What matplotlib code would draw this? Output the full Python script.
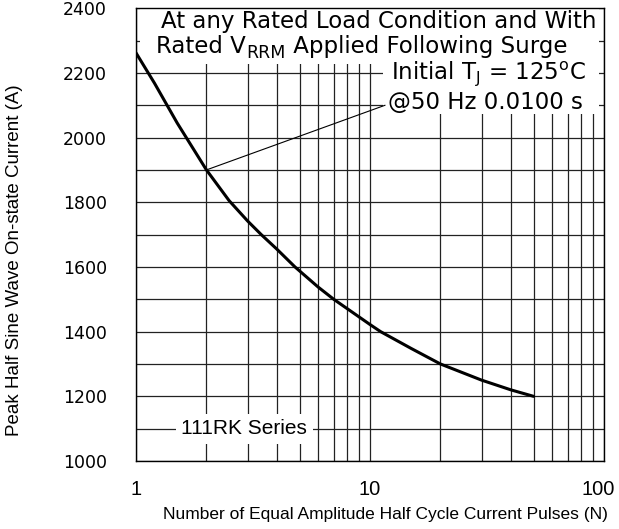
import numpy as np
import matplotlib.pyplot as plt
import matplotlib.transforms as mtransforms
from matplotlib.patches import Rectangle
from matplotlib.ticker import FixedLocator, NullFormatter

# values (111RK series)
pulses = [1, 1.2, 1.5, 2, 2.5, 3, 3.43, 4, 4.78, 6, 7, 10, 11.1, 15, 20, 30, 40, 50]
current = [2262, 2168, 2045, 1900, 1805, 1742, 1700, 1655, 1600, 1538, 1500, 1422,
           1400, 1348, 1300, 1250, 1220, 1200]

y_ticks = [1000, 1200, 1400, 1600, 1800, 2000, 2200, 2400]
x_ticks = [1, 10, 100]
x_ticklabels = ['1', '10', '100']

anno_point = (2, 1900)
anno_text_at = (11.6, 2100)

plt.rcParams['font.family'] = ['Liberation Sans', 'DejaVu Sans']

fig = plt.figure(figsize=(6.19, 5.29), dpi=100)
ax = fig.add_axes([0.2197, 0.1285, 0.7561, 0.856])

ax.set_xscale('log')
ax.set_xlim(1, 100)
ax.set_ylim(1000, 2400)

# grid: every 100 A, every log minor
minor_x = [m * d for d in (1, 10) for m in range(2, 10)]
ax.xaxis.set_minor_locator(FixedLocator(minor_x))
ax.xaxis.set_minor_formatter(NullFormatter())
ax.set_xticks(x_ticks)
ax.set_xticklabels(x_ticklabels, fontsize=14.5)
ax.set_yticks(y_ticks)
ax.set_yticklabels([str(v) for v in y_ticks], family='DejaVu Sans', fontsize=12.5)
ax.yaxis.set_minor_locator(FixedLocator(np.arange(1000, 2401, 100)))
ax.grid(True, which='both', color='#222222', lw=0.9, zorder=1)
ax.tick_params(which='both', length=0)
ax.tick_params(axis='y', pad=21)
ax.tick_params(axis='x', pad=14)
# keep "100" inside the canvas
last = ax.get_xticklabels()[-1]
last.set_transform(last.get_transform() +
                   mtransforms.ScaledTranslation(-4 / 72, 0, fig.dpi_scale_trans))

for s in ax.spines.values():
    s.set_linewidth(1.0)
    s.set_zorder(6)

ax.plot(pulses, current, color='black', lw=2.2, zorder=3, solid_capstyle='round')

# leader line to the conditions note
ax.annotate('', xy=anno_point, xytext=anno_text_at,
            arrowprops=dict(arrowstyle='-', lw=0.8, color='black',
                            shrinkA=0, shrinkB=0), zorder=3)

# white panels behind the note (grid is blanked there)
ax.add_patch(Rectangle((0.009, 0.877), 0.98, 0.123, transform=ax.transAxes,
                       facecolor='white', edgecolor='none', zorder=2))
ax.add_patch(Rectangle((0.528, 0.767), 0.461, 0.11, transform=ax.transAxes,
                       facecolor='white', edgecolor='none', zorder=2))

fs = 16.5
note = dict(transform=ax.transAxes, ha='right', va='center', fontsize=fs,
            family='DejaVu Sans', zorder=5)
ax.text(0.985, 0.971, 'At any Rated Load Condition and With', **note)

# second line built in pieces so the subscript stays large
t1 = ax.text(0.043, 0.901, 'Rated V', transform=ax.transAxes, ha='left',
             va='baseline', fontsize=fs, family='DejaVu Sans', zorder=5)
t2 = ax.annotate('RRM', xy=(1, 0), xycoords=t1, xytext=(0.5, 0),
                 textcoords='offset points', ha='left', va='baseline',
                 fontsize=12.5, family='DejaVu Sans', zorder=5)
ax.annotate(' Applied Following Surge', xy=(1, 0), xycoords=(t2, t1),
            ha='left', va='bottom', fontsize=fs, family='DejaVu Sans', zorder=5)

ax.text(0.962, 0.855, r'Initial T$_{\mathregular{J}}$ = 125$^{\mathregular{o}}$C', **note)
ax.text(0.955, 0.792, '@50 Hz 0.0100 s', **note)
ax.text(2.9, 1100, '111RK Series', ha='center', va='center', fontsize=15,
        bbox=dict(facecolor='white', edgecolor='none', pad=4), zorder=5)

fig.text(0.024, 0.508, 'Peak Half Sine Wave On-state Current (A)', rotation=90,
         ha='center', va='center', fontsize=13.5)
fig.text(0.622, 0.027, 'Number of Equal Amplitude Half Cycle Current Pulses (N)',
         ha='center', va='center', fontsize=12.5,
         family=['Liberation Sans Narrow', 'Liberation Sans', 'DejaVu Sans'])

fig.savefig('out.png', dpi=100)
